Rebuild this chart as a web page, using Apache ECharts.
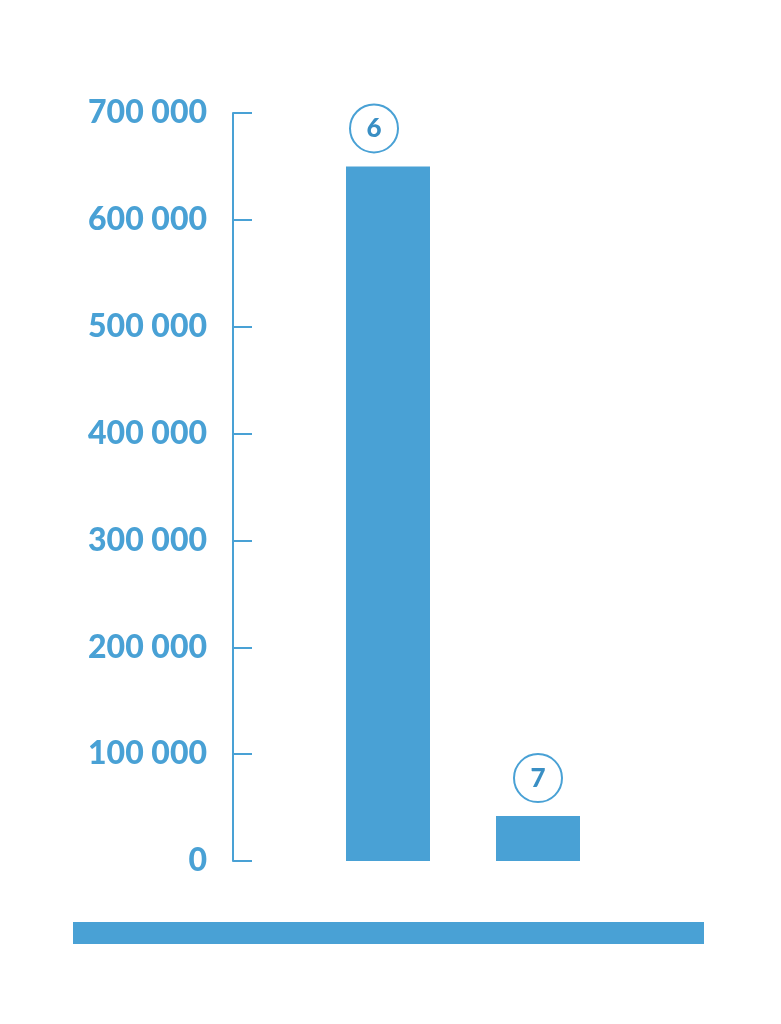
<!DOCTYPE html>
<html>
<head>
<meta charset="utf-8">
<script src="https://cdn.jsdelivr.net/npm/echarts@6/dist/echarts.min.js"></script>
<style>
html, body { margin: 0; padding: 0; background: #fff; }
#main { width: 781px; height: 1024px; }
</style>
</head>
<body>
<div id="main"></div>
<script>
var categories = ['6', '7'];
var values = [650000, 42000];
var yTicks = [0, 100000, 200000, 300000, 400000, 500000, 600000, 700000];

var blue = '#49a1d5';
var myChart = echarts.init(document.getElementById('main'));

function fmt(v) {
    return String(v).replace(/\B(?=(\d{3})+(?!\d))/g, ' ');
}

var option = {
    animation: false,
    grid: {
        left: 313,
        right: 168,
        top: 113,
        bottom: 163
    },
    xAxis: {
        type: 'category',
        data: categories,
        axisLine: { show: false },
        axisTick: { show: false },
        axisLabel: { show: false }
    },
    yAxis: {
        type: 'value',
        min: yTicks[0],
        max: yTicks[yTicks.length - 1],
        interval: 100000,
        offset: 80,
        axisLine: { show: true, lineStyle: { color: blue, width: 2 } },
        axisTick: { show: true, inside: true, length: 19, lineStyle: { color: blue, width: 2 } },
        splitLine: { show: false },
        axisLabel: {
            margin: 26,
            color: blue,
            fontFamily: 'Lato',
            fontWeight: 900,
            fontSize: 32,
            padding: [0, 0, 4, 0],
            formatter: fmt
        }
    },
    series: [
        {
            type: 'bar',
            barWidth: 84,
            itemStyle: { color: blue },
            label: {
                show: true,
                position: 'top',
                distance: 14,
                formatter: '{b}',
                width: 48,
                height: 48,
                lineHeight: 48,
                align: 'center',
                borderRadius: 26,
                borderColor: blue,
                borderWidth: 2,
                color: '#3a8fc4',
                fontFamily: 'Lato',
                fontWeight: 900,
                fontSize: 26
            },
            data: [
                { value: values[0], label: { offset: [-14, 0] } },
                { value: values[1] }
            ]
        }
    ],
    graphic: [
        {
            type: 'rect',
            shape: { x: 73, y: 922, width: 631, height: 22 },
            style: { fill: blue }
        }
    ]
};

myChart.setOption(option);
</script>
</body>
</html>
